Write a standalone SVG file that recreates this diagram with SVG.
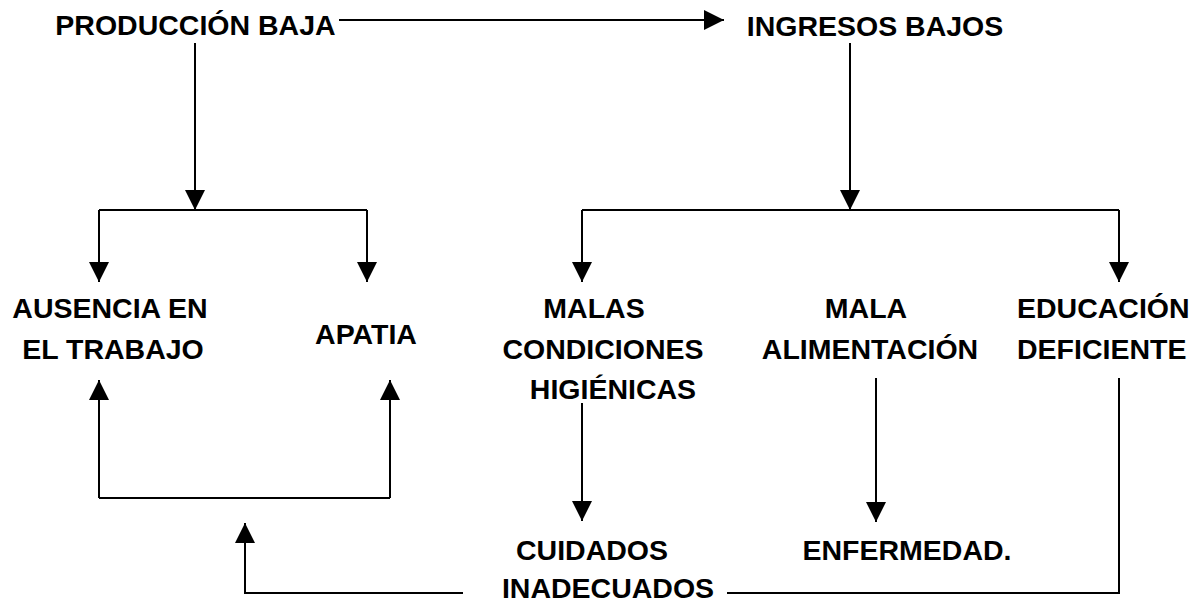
<svg xmlns="http://www.w3.org/2000/svg" width="1196" height="602" viewBox="0 0 1196 602">
<style>
text{font-family:"Liberation Sans",Arial,sans-serif;font-weight:bold;font-size:28.5px;fill:#000;text-anchor:middle}
.l{text-anchor:start}
.c{fill:none;stroke:#000;stroke-width:2}
</style>
<defs>
<marker id="ah" markerUnits="userSpaceOnUse" markerWidth="20" markerHeight="20" refX="20" refY="10" orient="auto" viewBox="0 0 20 20">
<path d="M0,0 L20,10 L0,20 z" fill="#000"/>
</marker>
</defs>
<rect width="1196" height="602" fill="#fff"/>
<g id="connectors">
<path class="c" d="M339,20 H724" marker-end="url(#ah)"/>
<path class="c" d="M195,43 V210" marker-end="url(#ah)"/>
<path class="c" d="M99,210 H367"/>
<path class="c" d="M99,210 V282" marker-end="url(#ah)"/>
<path class="c" d="M367,210 V282" marker-end="url(#ah)"/>
<path class="c" d="M850,43 V210" marker-end="url(#ah)"/>
<path class="c" d="M582,210 H1119"/>
<path class="c" d="M582,210 V282" marker-end="url(#ah)"/>
<path class="c" d="M1119,210 V282" marker-end="url(#ah)"/>
<path class="c" d="M99,498 H390"/>
<path class="c" d="M99,498 V380" marker-end="url(#ah)"/>
<path class="c" d="M390,498 V380" marker-end="url(#ah)"/>
<path class="c" d="M582,403 V521" marker-end="url(#ah)"/>
<path class="c" d="M876,378 V522" marker-end="url(#ah)"/>
<path class="c" d="M1119,378 V593 H727"/>
<path class="c" d="M463,593 H245 V523" marker-end="url(#ah)"/>
</g>
<g id="produccion"><text x="195.5" y="35">PRODUCCIÓN BAJA</text></g>
<g id="ingresos"><text x="875" y="36">INGRESOS BAJOS</text></g>
<g id="ausencia"><text x="110" y="318">AUSENCIA EN</text><text x="113" y="359">EL TRABAJO</text></g>
<g id="apatia"><text x="366" y="344">APATIA</text></g>
<g id="malas"><text x="594" y="318">MALAS</text><text x="603" y="359">CONDICIONES</text><text x="613" y="399">HIGIÉNICAS</text></g>
<g id="mala"><text x="866" y="318">MALA</text><text x="870" y="359">ALIMENTACIÓN</text></g>
<g id="educacion"><text class="l" x="1017" y="318">EDUCACIÓN</text><text class="l" x="1017" y="359">DEFICIENTE</text></g>
<g id="cuidados"><text x="592" y="560">CUIDADOS</text><text x="608" y="598">INADECUADOS</text></g>
<g id="enfermedad"><text x="907" y="560">ENFERMEDAD.</text></g>
</svg>
